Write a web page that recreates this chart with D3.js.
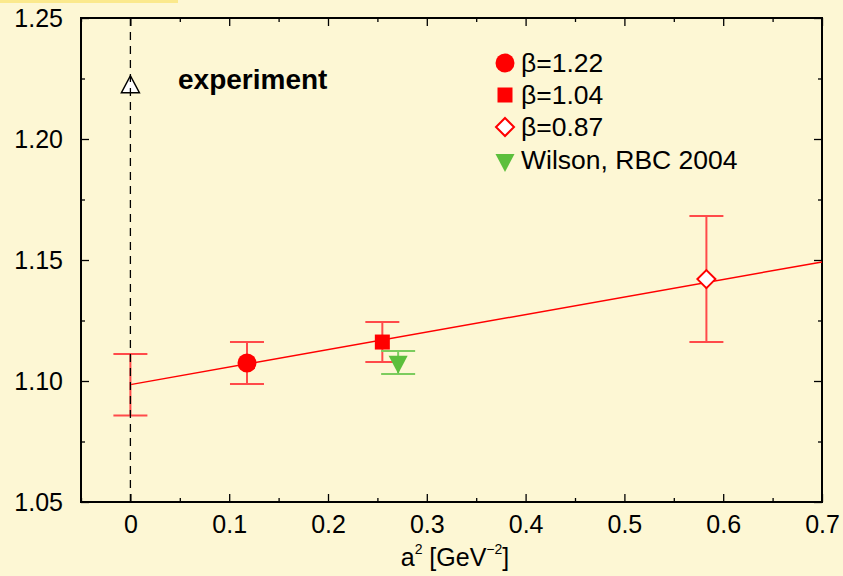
<!DOCTYPE html>
<html>
<head>
<meta charset="utf-8">
<script src="https://cdn.jsdelivr.net/npm/d3@7"></script>
<style>
  body { margin: 0; background: #fdf7d4; }
  svg { display: block; }
  text { font-family: "Liberation Sans", Arial, sans-serif; }
</style>
</head>
<body>
<div id="chart"></div>
<script>
// data
const seriesNames = ["β=1.22", "β=1.04", "β=0.87", "Wilson, RBC 2004"];
const seriesA2 = [0.118, 0.255, 0.583, 0.271];
const seriesVal = [1.1074, 1.1161, 1.1421, 1.1080];
const seriesLo = [1.0988, 1.1079, 1.1161, 1.1029];
const seriesHi = [1.1161, 1.1244, 1.1682, 1.1124];
const seriesShape = ["circle", "square", "diamond", "tridown"];
const seriesColor = ["#ff0000", "#ff0000", "#ff0000", "#5cbf3c"];
const errColor = ["#ff4a4a", "#ff4a4a", "#ff4a4a", "#7ccc5e"];

// continuum extrapolation at a^2 = 0 and the linear fit
const extrapA2 = 0, extrapVal = 1.0985, extrapLo = 1.0857, extrapHi = 1.1112;
const fitA2 = [0, 0.7];
const fitVal = [1.0985, 1.1492];

const experimentA2 = 0, experimentVal = 1.222;

const xTicks = [0, 0.1, 0.2, 0.3, 0.4, 0.5, 0.6, 0.7];
const xMinor = [-0.05, 0.05, 0.15, 0.25, 0.35, 0.45, 0.55, 0.65];
const yTicks = [1.05, 1.10, 1.15, 1.20, 1.25];
const yMinor = [1.075, 1.125, 1.175, 1.225];

const W = 843, H = 576;
const mLeft = 81, mRight = 822, mTop = 18, mBottom = 502;

const svg = d3.select("#chart").append("svg")
  .attr("width", W)
  .attr("height", H);

svg.append("rect").attr("width", W).attr("height", H).attr("fill", "#fdf7d4");
svg.append("rect").attr("x", 0).attr("y", 0).attr("width", 178).attr("height", 3).attr("fill", "#fbe98c");

const x = d3.scaleLinear().domain([-0.05, 0.7]).range([mLeft, mRight]);
const y = d3.scaleLinear().domain([1.05, 1.25]).range([mBottom, mTop]);

// axes, ticks pointing inwards
function styleAxis(g) {
  g.select(".domain").remove();
  g.selectAll(".tick line").attr("stroke", "#000").attr("stroke-width", 1.3);
  g.selectAll(".tick text").attr("font-size", 25).attr("fill", "#000")
    .attr("font-family", "Liberation Sans, Arial, sans-serif");
}

svg.append("g").attr("transform", "translate(0," + mBottom + ")")
  .call(d3.axisBottom(x).tickValues(xTicks).tickFormat(d3.format("")).tickSize(-8).tickPadding(13))
  .call(styleAxis);
svg.append("g").attr("transform", "translate(0," + mBottom + ")")
  .call(d3.axisBottom(x).tickValues(xMinor).tickFormat("").tickSize(-4))
  .call(styleAxis);
svg.append("g").attr("transform", "translate(0," + mTop + ")")
  .call(d3.axisTop(x).tickValues(xTicks).tickFormat("").tickSize(-8))
  .call(styleAxis);
svg.append("g").attr("transform", "translate(0," + mTop + ")")
  .call(d3.axisTop(x).tickValues(xMinor).tickFormat("").tickSize(-4))
  .call(styleAxis);

svg.append("g").attr("transform", "translate(" + mLeft + ",0)")
  .call(d3.axisLeft(y).tickValues(yTicks).tickFormat(d3.format(".2f")).tickSize(-8).tickPadding(18))
  .call(styleAxis);
svg.append("g").attr("transform", "translate(" + mLeft + ",0)")
  .call(d3.axisLeft(y).tickValues(yMinor).tickFormat("").tickSize(-4))
  .call(styleAxis);
svg.append("g").attr("transform", "translate(" + mRight + ",0)")
  .call(d3.axisRight(y).tickValues(yTicks).tickFormat("").tickSize(-8))
  .call(styleAxis);
svg.append("g").attr("transform", "translate(" + mRight + ",0)")
  .call(d3.axisRight(y).tickValues(yMinor).tickFormat("").tickSize(-4))
  .call(styleAxis);

// frame
svg.append("rect")
  .attr("x", mLeft).attr("y", mTop)
  .attr("width", mRight - mLeft).attr("height", mBottom - mTop)
  .attr("fill", "none").attr("stroke", "#000").attr("stroke-width", 2);

// fit line
svg.append("line")
  .attr("x1", x(fitA2[0])).attr("y1", y(fitVal[0]))
  .attr("x2", x(fitA2[1])).attr("y2", y(fitVal[1]))
  .attr("stroke", "#ff0000").attr("stroke-width", 1.5);

// error bars
function errorBar(xv, lo, hi, color) {
  const g = svg.append("g").attr("stroke", color).attr("stroke-width", 2);
  g.append("line").attr("x1", x(xv)).attr("x2", x(xv)).attr("y1", y(lo)).attr("y2", y(hi));
  g.append("line").attr("x1", x(xv) - 17).attr("x2", x(xv) + 17).attr("y1", y(lo)).attr("y2", y(lo));
  g.append("line").attr("x1", x(xv) - 17).attr("x2", x(xv) + 17).attr("y1", y(hi)).attr("y2", y(hi));
}
errorBar(extrapA2, extrapLo, extrapHi, "#ff4a4a");
seriesA2.forEach((d, i) => errorBar(d, seriesLo[i], seriesHi[i], errColor[i]));

// markers
function marker(g, shape, cx, cy, color) {
  if (shape === "circle") {
    g.append("circle").attr("cx", cx).attr("cy", cy).attr("r", 9.5).attr("fill", color);
  } else if (shape === "square") {
    g.append("rect").attr("x", cx - 7.5).attr("y", cy - 7.5).attr("width", 15).attr("height", 15).attr("fill", color);
  } else if (shape === "diamond") {
    g.append("path")
      .attr("d", "M" + cx + "," + (cy - 9) + "L" + (cx + 9) + "," + cy + "L" + cx + "," + (cy + 9) + "L" + (cx - 9) + "," + cy + "Z")
      .attr("fill", "#fff").attr("stroke", color).attr("stroke-width", 2);
  } else if (shape === "tridown") {
    g.append("path")
      .attr("d", "M" + (cx - 9.5) + "," + (cy - 6) + "L" + (cx + 9.5) + "," + (cy - 6) + "L" + cx + "," + (cy + 12) + "Z")
      .attr("fill", color);
  }
}
seriesA2.forEach((d, i) => marker(svg, seriesShape[i], x(d), y(seriesVal[i]), seriesColor[i]));

// experiment: open triangle
const ex = x(experimentA2), ey = y(experimentVal);
svg.append("path")
  .attr("d", "M" + ex + "," + (ey - 10) + "L" + (ex + 9) + "," + (ey + 7) + "L" + (ex - 9) + "," + (ey + 7) + "Z")
  .attr("fill", "#fff").attr("stroke", "#000").attr("stroke-width", 1.5);

// dashed vertical at a^2 = 0
svg.append("line")
  .attr("x1", x(0)).attr("x2", x(0)).attr("y1", mTop).attr("y2", mBottom)
  .attr("stroke", "#000").attr("stroke-width", 1.3).attr("stroke-dasharray", "8,6");

svg.append("text").attr("x", 178).attr("y", 89)
  .attr("font-size", 28).attr("font-weight", "bold").text("experiment");

// legend
const legY = [63, 95, 127, 160];
seriesNames.forEach((name, i) => {
  marker(svg, seriesShape[i], 505, legY[i], seriesColor[i]);
  svg.append("text").attr("x", 521).attr("y", legY[i] + 8.5)
    .attr("font-size", 26.5).text(name);
});

// x axis title
const xt = svg.append("text").attr("x", 455).attr("y", 566)
  .attr("font-size", 25).attr("text-anchor", "middle");
xt.append("tspan").text("a");
xt.append("tspan").attr("font-size", 14).attr("dy", -12).text("2");
xt.append("tspan").attr("dy", 12).text(" [GeV");
xt.append("tspan").attr("font-size", 14).attr("dy", -12).text("−2");
xt.append("tspan").attr("dy", 12).text("]");
</script>
</body>
</html>
